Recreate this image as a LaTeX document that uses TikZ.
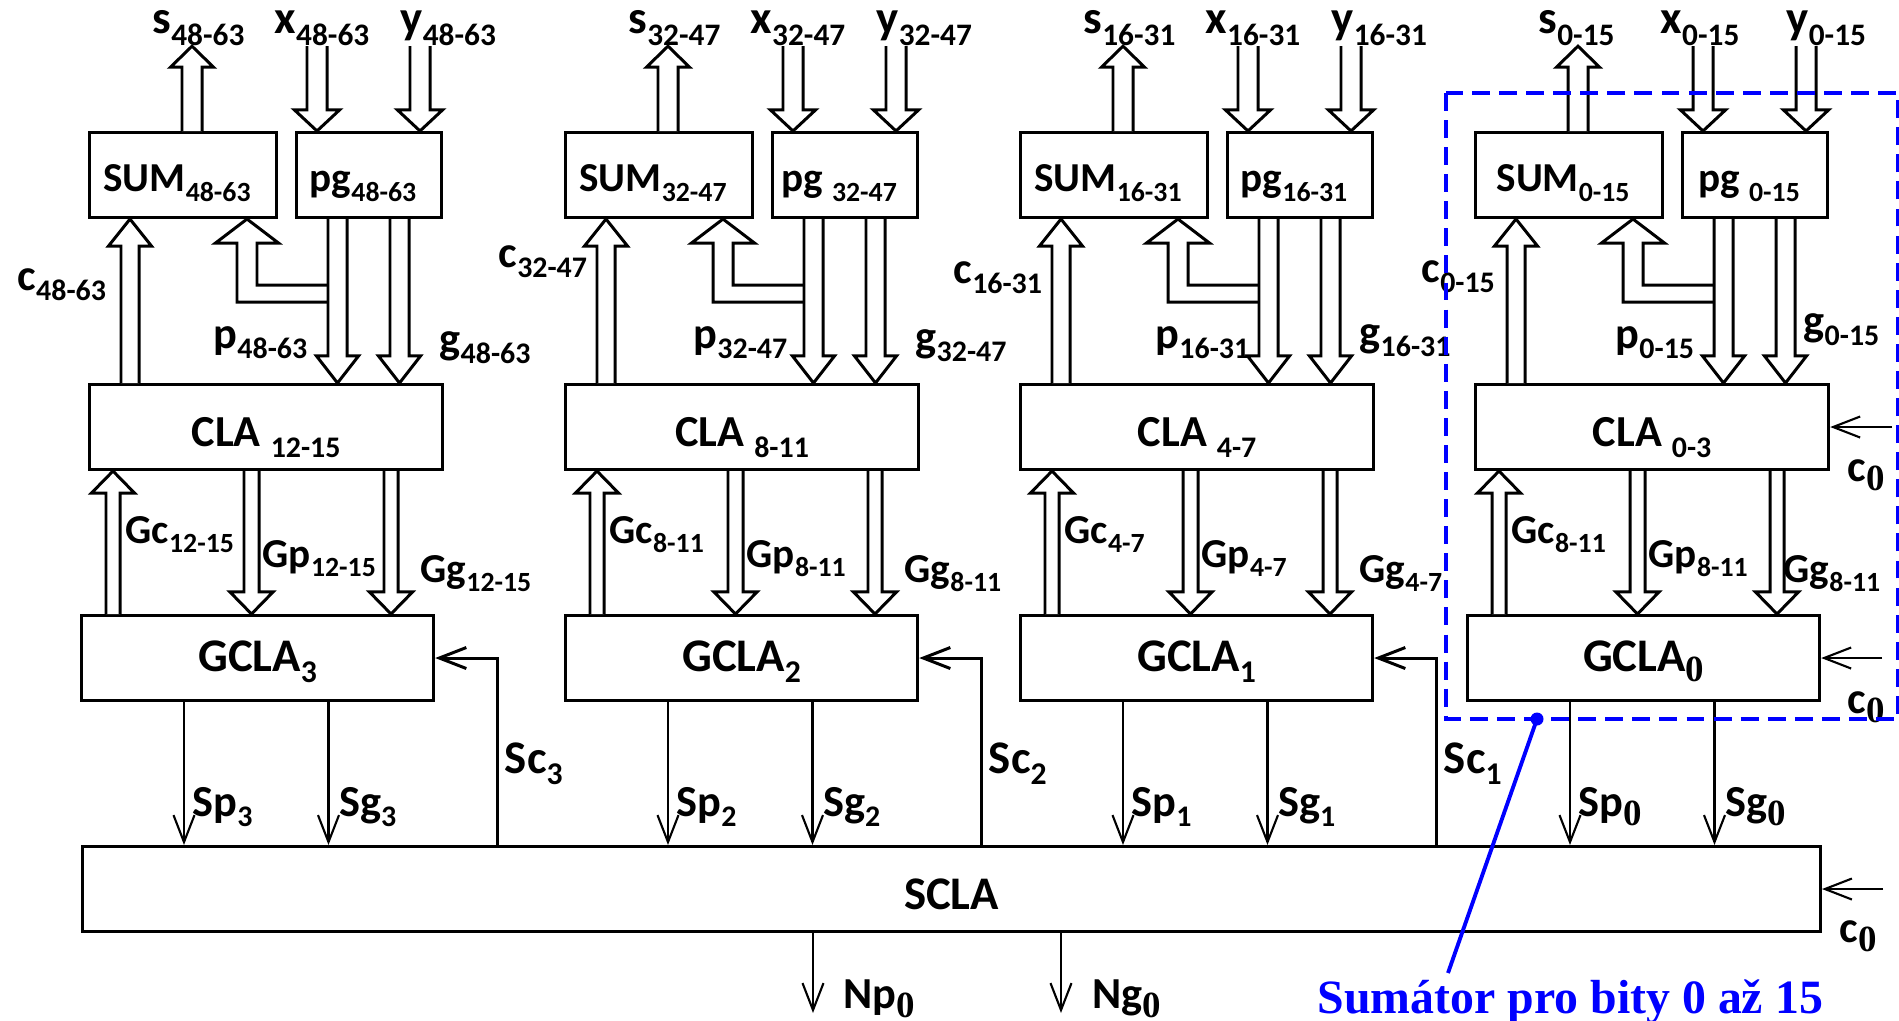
\documentclass[tikz,border=0pt]{standalone}
\usepackage{fontspec}
\setmainfont{Carlito}
\newfontfamily\tnr{Liberation Serif}
\usetikzlibrary{arrows.meta, calc}

% subscripts: sans digits, and the serif zero
\newcommand{\subsz}{8.5}
\newcommand{\dn}[1]{\raisebox{-0.24em}{\fontsize{\subsz}{\subsz}\selectfont #1}}
\newcommand{\zs}{\raisebox{-0.22em}{\tnr\fontsize{10.5}{10.5}\selectfont 0}}
\newcommand{\ix}[1]{\ifnum#1=0 \zs\else\dn{#1}\fi}
% hollow bus arrow: x-point, from, to, half shaft, half head, head length
\newcommand{\fatarrow}[6]{%
  \draw[fat] let \p1=#2, \p2=#3, \p3=#1, \n1={(\y2>\y1) ? 1 : -1} in
    ({\x3-#4},\y1) -- ({\x3-#4},{\y2-\n1*#6}) -- ({\x3-#5},{\y2-\n1*#6}) -- (\x3,\y2)
    -- ({\x3+#5},{\y2-\n1*#6}) -- ({\x3+#4},{\y2-\n1*#6}) -- ({\x3+#4},\y1);}

\begin{document}
\begin{tikzpicture}[x=0.01cm, y=-0.01cm,
    font=\bfseries\fontsize{12.6}{14}\selectfont,
    small/.style={font=\bfseries\fontsize{11.7}{14}\selectfont\def\subsz{7.9}},
    big/.style={font=\bfseries\fontsize{13.3}{15}\selectfont\def\subsz{9}},
    blk/.style={draw, line width=0.85pt, inner sep=0pt, anchor=north west},
    sumbox/.style={blk, small, minimum width=1.87cm, text height=0.59cm, text depth=0.26cm,
      execute at end node=\kern0.12cm},
    pgbox/.style={blk, small, minimum width=1.45cm, text height=0.59cm, text depth=0.26cm,
      execute at end node=\kern0.12cm},
    clabox/.style={blk, minimum width=3.53cm, text height=0.62cm, text depth=0.23cm},
    gclabox/.style={blk, big, minimum width=3.52cm, text height=0.56cm, text depth=0.29cm},
    fat/.style={draw, fill=white, line width=0.85pt, line join=miter},
    sig/.style={line width=0.6pt, -{Straight Barb[length=0.27cm, width=0.21cm]}},
    scl/.style={line width=0.85pt, -{Straight Barb[length=0.27cm, width=0.21cm]}},
    lab/.style={inner sep=0pt, anchor=base west},
    toplab/.style={lab, big, font=\bfseries\fontsize{13.3}{15}\selectfont\def\subsz{8.9}}]
  \useasboundingbox (0,0) rectangle (1899,1021);

  % common carry look-ahead at the bottom
  \node[blk, big, minimum width=17.37cm, text height=0.63cm, text depth=0.22cm] (scla) at (81,845) {SCLA};

  % the four 16-bit slices
  \foreach \k/\ox/\gx/\rng/\cl/\gl/\cxo/\cyo/\pxo/\gxo/\gyo/\ggo in {
      3/88/80/48-63/12-15/12-15/-71/290/125/351/353/340,
      2/564/564/32-47/8-11/8-11/-66/267/129/351/351/340,
      1/1019/1019/16-31/4-7/4-7/-66/283/136/340/346/340,
      0/1474/1466/0-15/0-3/8-11/-53/282/141/329/335/317}{
    \node[sumbox] (sum\k) at (\ox,131) {SUM\dn{\rng}};
    \node[pgbox] (pg\k) at (\ox+207,131) {pg\ifodd\k\else\ \fi\dn{\rng}};
    \node[clabox] (cla\k) at (\ox,383) {CLA \dn{\cl}};
    \node[gclabox] (gcla\k) at (\gx,614) {GCLA\ix{\k}};

    % inputs and sum output
    \node[toplab] (slab\k) at (\ox+64,34) {s\dn{\rng}};
    \node[toplab] (xlab\k) at (\ox+186,34) {x\dn{\rng}};
    \node[toplab] (ylab\k) at (\ox+312,34) {y\dn{\rng}};
    \fatarrow{($(sum\k.north west)+(104,0)$)}{(sum\k.north)}{(slab\k.south)}{0.1cm}{0.215cm}{0.21cm}
    \fatarrow{($(pg\k.north west)+(22,0)$)}{(xlab\k.south)}{(pg\k.north)}{0.1cm}{0.225cm}{0.21cm}
    \fatarrow{($(pg\k.north west)+(125,0)$)}{(ylab\k.south)}{(pg\k.north)}{0.1cm}{0.225cm}{0.21cm}

    % p back to SUM, c up, p and g down
    \draw[fat] ($(sum\k.south west)+(240,66)$) -- ++(-71,0) -- ++(0,-42) -- ++(21.5,0)
      -- ++(-31.5,-24) -- ++(-31.5,24) -- ++(21.5,0) -- ++(0,59) -- ++(91,0);
    \fatarrow{($(cla\k.north west)+(42,0)$)}{(cla\k.north)}{(sum\k.south)}{0.09cm}{0.215cm}{0.27cm}
    \fatarrow{($(pg\k.south west)+(42.5,0)$)}{(pg\k.south)}{(cla\k.north)}{0.095cm}{0.21cm}{0.27cm}
    \fatarrow{($(pg\k.south west)+(104.5,0)$)}{(pg\k.south)}{(cla\k.north)}{0.095cm}{0.21cm}{0.27cm}
    \node[lab] (clab\k) at (\ox+\cxo,\cyo) {c\dn{\rng}};
    \node[lab] (plab\k) at (\ox+\pxo,348) {p\dn{\rng}};
    \node[lab] (glab\k) at (\ox+\gxo,\gyo) {g\dn{\rng}};

    % group signals
    \fatarrow{($(gcla\k.north west)+(33,0)$)}{(gcla\k.north)}{(cla\k.south)}{0.07cm}{0.215cm}{0.22cm}
    \fatarrow{($(gcla\k.north west)+(171.5,0)$)}{(cla\k.south)}{(gcla\k.north)}{0.075cm}{0.215cm}{0.22cm}
    \fatarrow{($(gcla\k.north west)+(311,0)$)}{(cla\k.south)}{(gcla\k.north)}{0.07cm}{0.215cm}{0.22cm}
    \node[lab, small] (gclab\k) at (\gx+45,543) {Gc\dn{\gl}};
    \node[lab, small] (gplab\k) at (\gx+182,567) {Gp\dn{\gl}};
    \node[lab, small] (gglab\k) at (\gx+\ggo,582) {Gg\dn{\gl}};

    % section signals to SCLA
    \coordinate (sp\k) at ($(gcla\k.south west)+(104,0)$);
    \coordinate (sg\k) at ($(gcla\k.south west)+(248.5,0)$);
    \draw[sig] (sp\k) -- (sp\k |- scla.north);
    \draw[sig] (sg\k) -- (sg\k |- scla.north);
    \node[lab] (splab\k) at ($(sp\k |- scla.north)+(8,-29)$) {Sp\ix{\k}};
    \node[lab] (sglab\k) at ($(sg\k |- scla.north)+(10,-29)$) {Sg\ix{\k}};
    \ifnum\k>0
      \coordinate (sc\k) at ($(gcla\k.east)+(62,0)$);
      \draw[scl] (sc\k |- scla.north) |- (gcla\k.east);
      \node[lab, big] (sclab\k) at ($(sc\k |- scla.north)+(7,-72)$) {Sc\dn{\k}};
    \fi
  }

  % carry in
  \draw[sig] ([xshift=0.62cm]cla0.east) -- (cla0.east);
  \node[lab] (c0a) at (1847,481) {c\zs};
  \draw[sig] ([xshift=0.61cm]gcla0.east) -- (gcla0.east);
  \node[lab] (c0b) at (1847,713) {c\zs};
  \draw[sig] ([xshift=0.61cm]scla.east) -- (scla.east);
  \node[lab] (c0c) at (1839,942) {c\zs};

  % outputs of SCLA
  \coordinate (npend) at (813,1013);
  \coordinate (ngend) at (1061,1013);
  \draw[sig] (npend |- scla.south) -- (npend);
  \draw[sig] (ngend |- scla.south) -- (ngend);
  \node[lab] (nplab) at (843,1008) {Np\zs};
  \node[lab] (nglab) at (1092,1008) {Ng\zs};

  % slice 0 highlighted
  \draw[blue, line width=1.1pt, dash pattern=on 5.1pt off 2.6pt] (1446,93) rectangle (1898,719);
  \coordinate (dot) at (1537,719);
  \coordinate (tail) at (1448,973);
  \node[lab, text=blue, font=\tnr\bfseries\fontsize{13.6}{16}\selectfont] (note) at (1317,1013) {Sumátor pro bity 0 až 15};
  \draw[blue, line width=1.1pt] (dot) -- (tail);
  \fill[blue] (dot) circle[radius=0.065cm];
\end{tikzpicture}
\end{document}
